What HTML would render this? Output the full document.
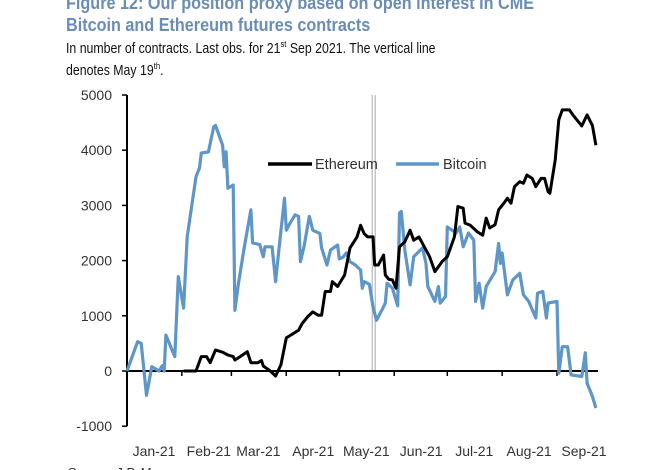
<!DOCTYPE html>
<html><head><meta charset="utf-8"><style>
body{margin:0;background:#fff;width:645px;height:470px;overflow:hidden;font-family:"Liberation Sans",sans-serif;position:relative}
.t{position:absolute;left:66px;color:#6a8db5;font-weight:bold;font-size:18px;line-height:22px;white-space:nowrap;transform:scaleX(0.9);transform-origin:0 0}
.s{position:absolute;left:66px;font-size:14.5px;line-height:22px;color:#111;white-space:nowrap;transform:scaleX(0.85);transform-origin:0 0}
sup{font-size:9px;line-height:0;vertical-align:6px}
</style></head><body>
<div class="t" style="top:-8px">Figure 12: Our position proxy based on open interest in CME<br>Bitcoin and Ethereum futures contracts</div>
<div class="s" style="top:38px">In number of contracts. Last obs. for 21<sup>st</sup> Sep 2021. The vertical line<br>denotes May 19<sup>th</sup>.</div>
<svg id="c" width="645" height="470" style="position:absolute;left:0;top:0"></svg>
<script>
const yTicks=[5000,4000,3000,2000,1000,0,-1000];
const monthLabels=["Jan-21","Feb-21","Mar-21","Apr-21","May-21","Jun-21","Jul-21","Aug-21","Sep-21"];
const monthDays=[0,31,59,90,120,151,181,212,243];
const markerDay=138;
const btcDays=[0,6,8,11,14,18,20,21,22,27,29,32,34,39,41,42,46,49,50,54,55,56,57,60,61,63,66,68,70,71,75,77,78,82,84,86,89,90,92,95,97,98,100,103,105,109,110,113,115,119,120,122,124,126,129,132,133,134,137,139,141,144,146,147,150,153,154,155,157,160,162,167,169,170,174,176,177,180,181,186,188,190,193,196,197,199,201,203,208,210,211,212,215,218,222,224,227,231,232,235,237,238,243,244,246,249,251,257,259,260,263,265];
const btcVals=[0,530,500,-440,80,0,100,0,650,260,1710,1140,2430,3520,3680,3950,3970,4420,4450,4090,3700,3970,3310,3370,1100,1590,2190,2550,2920,2320,2290,2070,2250,2250,1620,2250,3130,2550,2670,2830,2800,1980,2250,2800,2550,2490,2230,1920,2190,2280,2030,2060,2140,1980,1920,1830,1500,1620,1570,1160,920,1100,1230,1590,1500,1180,2860,2890,2190,1560,2070,2230,1950,1530,1260,1530,1230,1350,2610,2500,2610,2250,2500,2370,1260,1590,1140,1530,1800,2310,1950,2140,1380,1650,1770,1380,1260,960,1410,1440,960,1230,1260,-40,440,440,-70,-100,330,-220,-460,-670];
const ethDays=[32,39,42,45,47,50,54,57,60,61,64,68,70,74,76,77,81,84,87,90,93,97,99,102,105,108,110,112,115,116,119,123,126,130,132,134,136,139,140,142,145,146,148,150,152,154,157,160,162,165,168,171,174,178,181,185,187,190,191,194,198,201,203,205,208,210,213,215,217,219,222,224,226,229,231,234,236,238,239,242,244,246,250,252,257,260,263,265];
const ethVals=[0,0,260,260,150,380,340,290,260,200,260,350,150,150,190,90,0,-90,110,600,660,740,860,980,1070,1010,1010,1440,1440,1620,1530,1740,2230,2430,2640,2490,2430,2430,1920,1920,2100,1740,1660,1650,1500,2250,2340,2550,2370,2430,2250,2070,1800,1980,2070,2430,2980,2950,2680,2640,2520,2460,2770,2590,2650,2920,3040,3130,3040,3340,3430,3400,3550,3490,3340,3490,3490,3250,3220,3820,4550,4730,4730,4640,4440,4640,4450,4090];
const svg=document.getElementById('c');const NS='http://www.w3.org/2000/svg';
const X=d=>127+d*1.7695, Y=v=>371-v*0.0552;
function mk(t,a){const e=document.createElementNS(NS,t);for(const k in a)e.setAttribute(k,a[k]);svg.appendChild(e);return e;}
let e;
e=mk('line',{x1:X(markerDay)+1,x2:X(markerDay)+1,y1:95,y2:371,stroke:'#aaa','stroke-width':1});

e=mk('line',{x1:X(markerDay)+4,x2:X(markerDay)+4,y1:95,y2:371,stroke:'#aaa','stroke-width':1});

e=mk('line',{x1:127,x2:127,y1:Y(5000),y2:Y(-1000),stroke:'#000','stroke-width':2});

yTicks.forEach(v=>{mk('line',{x1:122,x2:127,y1:Y(v),y2:Y(v),stroke:'#000','stroke-width':1.5});
 e=mk('text',{x:112,y:Y(v)+5,'text-anchor':'end','font-size':14,fill:'#333'});e.textContent=v;
 });
e=mk('line',{x1:127,x2:598,y1:Y(0),y2:Y(0),stroke:'#000','stroke-width':2});

monthDays.forEach((d,i)=>{mk('line',{x1:X(d),x2:X(d),y1:Y(0),y2:Y(0)+5,stroke:'#000','stroke-width':1.5});
 e=mk('text',{x:X(d)+27,y:456,'text-anchor':'middle','font-size':14,fill:'#333'});e.textContent=monthLabels[i];
 });
function pts(ds,vs){return ds.map((d,i)=>X(d).toFixed(1)+','+Y(vs[i]).toFixed(1)).join(' ');}
e=mk('polyline',{points:pts(btcDays,btcVals),fill:'none',stroke:'#5f96c8','stroke-width':3.2,'stroke-linejoin':'round'});

e=mk('polyline',{points:pts(ethDays,ethVals),fill:'none',stroke:'#000','stroke-width':3,'stroke-linejoin':'round'});

e=mk('line',{x1:268,x2:312,y1:164,y2:164,stroke:'#000','stroke-width':3.5});

e=mk('text',{x:315,y:169,'font-size':14.5,fill:'#333'});e.textContent='Ethereum';

e=mk('line',{x1:396,x2:439,y1:164,y2:164,stroke:'#5f96c8','stroke-width':3.5});

e=mk('text',{x:443,y:169,'font-size':14.5,fill:'#333'});e.textContent='Bitcoin';

e=mk('text',{x:68,y:477,'font-size':13,fill:'#333'});e.textContent='Source: J.P. Morgan';

</script>
</body></html>
